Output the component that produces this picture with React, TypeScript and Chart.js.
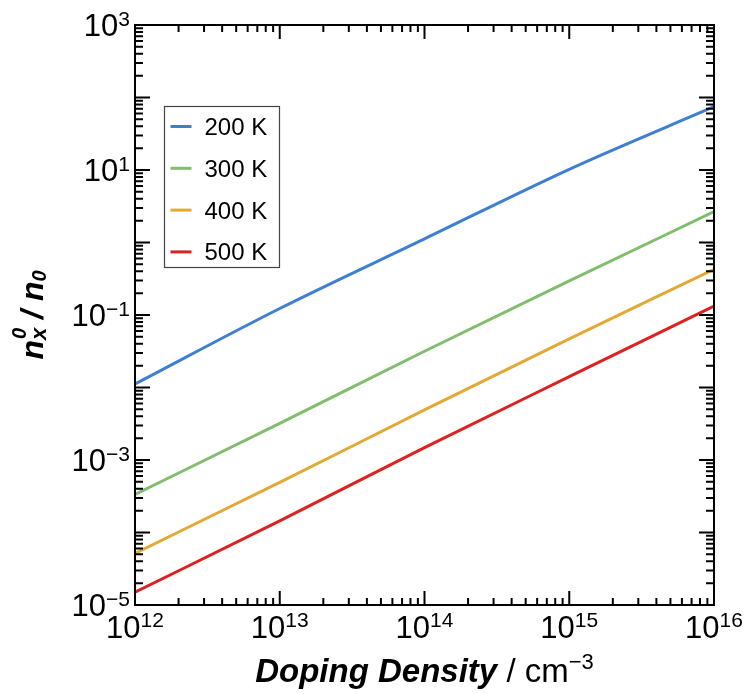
import React, { useEffect, useRef } from "react";
import { Chart, registerables } from "chart.js";

Chart.register(...registerables);

// Doping density (cm^-3) sample points
const dopingDecades = [1e12, 1e13, 1e14, 1e15, 1e16];

// n_x^0 / n_0 values
const ratio200K = [0.01117, 0.123, 1.122, 10.23, 74.6];
const ratio300K = [3.36e-4, 3.2e-3, 0.0316, 0.295, 2.66];
const ratio400K = [5.16e-5, 4.9e-4, 4.9e-3, 0.0468, 0.427];
const ratio500K = [1.5e-5, 1.45e-4, 1.48e-3, 0.0141, 0.133];

const seriesLabels = ["200 K", "300 K", "400 K", "500 K"];
const seriesColors = ["#3f7fd2", "#80bd6c", "#e2a935", "#dd2020"];

const xTickExponents = [12, 13, 14, 15, 16];
const xTickLabels = ["12", "13", "14", "15", "16"];
const yLabelExponents = [-5, -3, -1, 1, 3];
const yLabelTexts = ["\u22125", "\u22123", "\u22121", "1", "3"];

const FONT = "'Liberation Sans', Arial, Helvetica, sans-serif";

function toPoints(xs: number[], ys: number[]) {
  return xs.map((x, i) => ({ x, y: ys[i] }));
}

const framePlugin = {
  id: "framePlugin",
  afterDraw(chart: any) {
    const ctx: CanvasRenderingContext2D = chart.ctx;
    const area = chart.chartArea;
    const xs = chart.scales.x;
    const ys = chart.scales.y;
    ctx.save();
    ctx.strokeStyle = "#000";
    ctx.fillStyle = "#000";

    // ticks
    ctx.lineWidth = 2;
    ctx.beginPath();
    for (let e = 12; e <= 16; e++) {
      for (let m = 1; m <= 9; m++) {
        const v = m * Math.pow(10, e);
        if (v > 1e16 * 1.0001) continue;
        const px = xs.getPixelForValue(v);
        const len = m === 1 ? 14 : 7;
        ctx.moveTo(px, area.bottom);
        ctx.lineTo(px, area.bottom - len);
        ctx.moveTo(px, area.top);
        ctx.lineTo(px, area.top + len);
      }
    }
    for (let e = -5; e <= 3; e++) {
      for (let m = 1; m <= 9; m++) {
        const v = m * Math.pow(10, e);
        if (v > 1e3 * 1.0001) continue;
        const py = ys.getPixelForValue(v);
        const len = m === 1 ? 15 : 8;
        ctx.moveTo(area.left, py);
        ctx.lineTo(area.left + len, py);
        ctx.moveTo(area.right, py);
        ctx.lineTo(area.right - len, py);
      }
    }
    ctx.stroke();

    // frame
    ctx.lineWidth = 2;
    ctx.strokeRect(area.left, area.top, area.right - area.left, area.bottom - area.top);

    // x tick labels
    const mainFont = `31px ${FONT}`;
    const supFont = `21px ${FONT}`;
    ctx.textBaseline = "alphabetic";
    xTickExponents.forEach((e, i) => {
      const px = xs.getPixelForValue(Math.pow(10, e));
      ctx.font = mainFont;
      const w1 = ctx.measureText("10").width;
      ctx.font = supFont;
      const w2 = ctx.measureText(xTickLabels[i]).width;
      const start = px - (w1 + w2) / 2;
      ctx.textAlign = "left";
      ctx.font = mainFont;
      ctx.fillText("10", start, area.bottom + 33);
      ctx.font = supFont;
      ctx.fillText(xTickLabels[i], start + w1, area.bottom + 22);
    });

    // y tick labels
    yLabelExponents.forEach((e, i) => {
      const py = ys.getPixelForValue(Math.pow(10, e));
      ctx.font = supFont;
      const w2 = ctx.measureText(yLabelTexts[i]).width;
      ctx.font = mainFont;
      const w1 = ctx.measureText("10").width;
      const right = area.left - 5;
      ctx.textAlign = "left";
      ctx.font = mainFont;
      ctx.fillText("10", right - w2 - w1, py + 11);
      ctx.font = supFont;
      ctx.fillText(yLabelTexts[i], right - w2, py + 1);
    });

    // x axis title
    const bi = `italic bold 33px ${FONT}`;
    const reg = `33px ${FONT}`;
    const supT = `22px ${FONT}`;
    const t1 = "Doping Density";
    const t2 = " / cm";
    const t3 = "\u22123";
    ctx.font = bi;
    const a1 = ctx.measureText(t1).width;
    ctx.font = reg;
    const a2 = ctx.measureText(t2).width;
    ctx.font = supT;
    const a3 = ctx.measureText(t3).width;
    const cx = (area.left + area.right) / 2;
    let sx = cx - (a1 + a2 + a3) / 2;
    const by = area.bottom + 77;
    ctx.textAlign = "left";
    ctx.font = bi;
    ctx.fillText(t1, sx, by);
    sx += a1;
    ctx.font = reg;
    ctx.fillText(t2, sx, by);
    sx += a2;
    ctx.font = supT;
    ctx.fillText(t3, sx, by - 13);

    // y axis title (rotated)
    ctx.save();
    ctx.translate(43, (area.top + area.bottom) / 2);
    ctx.rotate(-Math.PI / 2);
    const nFont = `italic bold 32px ${FONT}`;
    const subFont = `italic bold 22px ${FONT}`;
    const sub0Font = `italic bold 20px ${FONT}`;
    ctx.font = nFont;
    const wn = ctx.measureText("n").width;
    const wsl = ctx.measureText(" / ").width;
    ctx.font = subFont;
    const wx = ctx.measureText("x").width;
    ctx.font = sub0Font;
    const w0 = ctx.measureText("0").width;
    const total = wn + Math.max(wx, w0) + wsl + wn + w0;
    let tx = -total / 2;
    ctx.textAlign = "left";
    ctx.font = nFont;
    ctx.fillText("n", tx, 0);
    tx += wn;
    ctx.font = sub0Font;
    ctx.fillText("0", tx + 1, -17);
    ctx.font = subFont;
    ctx.fillText("x", tx, 3);
    tx += Math.max(wx, w0);
    ctx.font = nFont;
    ctx.fillText(" / ", tx, 0);
    tx += wsl;
    ctx.fillText("n", tx, 0);
    tx += wn;
    ctx.font = sub0Font;
    ctx.fillText("0", tx, 3);
    ctx.restore();

    // legend
    const lx = area.left + 29.5;
    const ly = area.top + 81.5;
    ctx.lineWidth = 1.2;
    ctx.strokeStyle = "#444";
    ctx.strokeRect(lx, ly, 115, 161);
    chart.data.datasets.forEach((ds: any, i: number) => {
      const yy = ly + 20 + i * 41.8;
      ctx.strokeStyle = ds.borderColor;
      ctx.lineWidth = 3;
      ctx.beginPath();
      ctx.moveTo(lx + 6, yy);
      ctx.lineTo(lx + 27, yy);
      ctx.stroke();
      ctx.fillStyle = "#000";
      ctx.font = `24px ${FONT}`;
      ctx.textAlign = "left";
      ctx.fillText(ds.label, lx + 40, yy + 8.5);
    });

    ctx.restore();
  },
};

export default function App() {
  const canvasRef = useRef<HTMLCanvasElement | null>(null);

  useEffect(() => {
    const canvas = canvasRef.current;
    if (!canvas) return;
    const chart = new Chart(canvas, {
      type: "line",
      data: {
        datasets: [
          { label: seriesLabels[0], data: toPoints(dopingDecades, ratio200K), borderColor: seriesColors[0] },
          { label: seriesLabels[1], data: toPoints(dopingDecades, ratio300K), borderColor: seriesColors[1] },
          { label: seriesLabels[2], data: toPoints(dopingDecades, ratio400K), borderColor: seriesColors[2] },
          { label: seriesLabels[3], data: toPoints(dopingDecades, ratio500K), borderColor: seriesColors[3] },
        ].map((d) => ({
          ...d,
          borderWidth: 3,
          pointRadius: 0,
          cubicInterpolationMode: "monotone",
          fill: false,
        })),
      },
      options: {
        responsive: false,
        animation: false,
        devicePixelRatio: 1,
        layout: { padding: { left: 0, right: 35, top: 25, bottom: 0 } },
        plugins: { legend: { display: false }, tooltip: { enabled: false } },
        scales: {
          x: {
            type: "logarithmic",
            min: 1e12,
            max: 1e16,
            grid: { display: false },
            border: { display: false },
            ticks: { display: false },
            afterFit: (s: any) => {
              s.height = 89;
            },
          },
          y: {
            type: "logarithmic",
            min: 1e-5,
            max: 1e3,
            grid: { display: false },
            border: { display: false },
            ticks: { display: false },
            afterFit: (s: any) => {
              s.width = 135;
            },
          },
        },
      },
      plugins: [framePlugin],
    } as any);
    return () => chart.destroy();
  }, []);

  return (
    <div style={{ position: "fixed", left: 0, top: 0, width: 749, height: 694, background: "#fff" }}>
      <canvas ref={canvasRef} width={749} height={694} style={{ display: "block" }} />
    </div>
  );
}
